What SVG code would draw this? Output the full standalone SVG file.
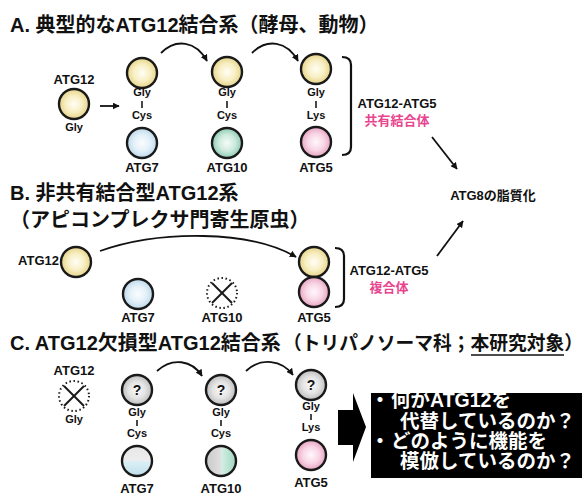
<svg xmlns="http://www.w3.org/2000/svg" width="588" height="496" viewBox="0 0 588 496">
<defs>
<radialGradient id="gY" cx="0.5" cy="0.5" r="0.5"><stop offset="0" stop-color="#fffef6"/><stop offset="0.55" stop-color="#f8efc4"/><stop offset="1" stop-color="#e6d488"/></radialGradient>
<radialGradient id="gB" cx="0.5" cy="0.5" r="0.5"><stop offset="0" stop-color="#fbfdff"/><stop offset="0.55" stop-color="#e3f0f8"/><stop offset="1" stop-color="#bcd9ea"/></radialGradient>
<radialGradient id="gT" cx="0.5" cy="0.5" r="0.5"><stop offset="0" stop-color="#f6fcf9"/><stop offset="0.55" stop-color="#cdeadd"/><stop offset="1" stop-color="#8ecbb4"/></radialGradient>
<radialGradient id="gP" cx="0.5" cy="0.5" r="0.5"><stop offset="0" stop-color="#fff8fb"/><stop offset="0.55" stop-color="#f8d6e5"/><stop offset="1" stop-color="#e8a3c2"/></radialGradient>
<radialGradient id="gG" cx="0.5" cy="0.5" r="0.5"><stop offset="0" stop-color="#fafafa"/><stop offset="0.55" stop-color="#e4e4e4"/><stop offset="1" stop-color="#bdbdbd"/></radialGradient>
<linearGradient id="gCB" x1="0" y1="0" x2="0" y2="1"><stop offset="0" stop-color="#e6e6e6"/><stop offset="0.5" stop-color="#eeeeee"/><stop offset="0.5" stop-color="#dcf0f6"/><stop offset="1" stop-color="#bfe0ec"/></linearGradient>
<linearGradient id="gCT" x1="0" y1="0" x2="1" y2="0"><stop offset="0" stop-color="#c8c8c8"/><stop offset="0.5" stop-color="#e0e0e0"/><stop offset="0.5" stop-color="#d6efe6"/><stop offset="1" stop-color="#9fd6c0"/></linearGradient>
<marker id="ah" viewBox="0 0 10 10" refX="9" refY="5" markerWidth="7" markerHeight="7" markerUnits="userSpaceOnUse" orient="auto"><path d="M0,0 L10,5 L0,10 z" fill="#111"/></marker>
</defs>
<style>
.t{font-family:"Liberation Sans","Noto Sans CJK JP",sans-serif;font-weight:bold;fill:#111}
.title{font-size:20px}
.lbl{font-size:13px;text-anchor:middle}
.sm{font-size:11px;text-anchor:middle}
.q{font-size:14px;text-anchor:middle}
.pk{fill:#e8458f}
.c{stroke:#1a1a1a;stroke-width:2.4}
.dot{fill:#fff;stroke:#1a1a1a;stroke-width:2;stroke-dasharray:1.5 2.6}
.x{stroke:#1a1a1a;stroke-width:2}
.bond{stroke:#1a1a1a;stroke-width:1.6}
.conn{fill:none;stroke:#111;stroke-width:1.8}
.br{fill:none;stroke:#111;stroke-width:2.2}
.w{fill:#fff;font-size:19.5px;font-family:"Liberation Sans","Noto Sans CJK JP",sans-serif;font-weight:bold}
</style>
<rect width="588" height="496" fill="#fff"/>

<!-- Section A -->
<text class="t title" x="10" y="32">A. 典型的なATG12結合系（酵母、動物）</text>
<g id="A-ATG12">
<text class="t lbl" x="74" y="84">ATG12</text>
<circle class="c" cx="74" cy="104" r="15" fill="url(#gY)"/>
<text class="t sm" x="74" y="131">Gly</text>
</g>
<g id="A-ATG7">
<circle class="c" cx="142" cy="73" r="15" fill="url(#gY)"/>
<text class="t sm" x="142" y="96">Gly</text>
<line class="bond" x1="142" y1="101" x2="142" y2="108"/>
<text class="t sm" x="142" y="119">Cys</text>
<circle class="c" cx="142" cy="143" r="15" fill="url(#gB)"/>
<text class="t lbl" x="142" y="172">ATG7</text>
</g>
<g id="A-ATG10">
<circle class="c" cx="227" cy="72" r="15" fill="url(#gY)"/>
<text class="t sm" x="227" y="96">Gly</text>
<line class="bond" x1="227" y1="101" x2="227" y2="108"/>
<text class="t sm" x="227" y="119">Cys</text>
<circle class="c" cx="227" cy="143" r="15" fill="url(#gT)"/>
<text class="t lbl" x="227" y="172">ATG10</text>
</g>
<g id="A-ATG5">
<circle class="c" cx="316" cy="69" r="15" fill="url(#gY)"/>
<text class="t sm" x="316" y="96">Gly</text>
<line class="bond" x1="316" y1="101" x2="316" y2="108"/>
<text class="t sm" x="316" y="119">Lys</text>
<circle class="c" cx="316" cy="142" r="15" fill="url(#gP)"/>
<text class="t lbl" x="316" y="172">ATG5</text>
</g>
<g id="A-complex">
<path class="br" d="M342,57 Q351,57 351,65 V147 Q351,155 342,155"/>
<text class="t lbl" x="397" y="108">ATG12-ATG5</text>
<text class="t lbl pk" x="397" y="125">共有結合体</text>
</g>

<g id="ATG8">
<text class="t lbl" x="493" y="200">ATG8の脂質化</text>
</g>

<!-- Section B -->
<text class="t title" x="10" y="200">B. 非共有結合型ATG12系</text>
<text class="t title" x="10" y="227">（アピコンプレクサ門寄生原虫）</text>
<g id="B-ATG12">
<text class="t lbl" x="59" y="265" style="text-anchor:end">ATG12</text>
<circle class="c" cx="76" cy="262" r="15" fill="url(#gY)"/>
</g>
<g id="B-ATG7">
<circle class="c" cx="138" cy="294" r="15" fill="url(#gB)"/>
<text class="t lbl" x="138" y="322">ATG7</text>
</g>
<g id="B-ATG10">
<circle class="dot" cx="222" cy="293" r="15"/>
<line class="x" x1="212" y1="283" x2="232" y2="303"/>
<line class="x" x1="232" y1="283" x2="212" y2="303"/>
<text class="t lbl" x="222" y="322">ATG10</text>
</g>
<g id="B-ATG5">
<circle class="c" cx="314" cy="262" r="15" fill="url(#gY)"/>
<circle class="c" cx="314" cy="292" r="15" fill="url(#gP)"/>
<text class="t lbl" x="314" y="322">ATG5</text>
</g>
<g id="B-complex">
<path class="br" d="M335,248 Q344,248 344,256 V299 Q344,307 335,307"/>
<text class="t lbl" x="389" y="275">ATG12-ATG5</text>
<text class="t lbl pk" x="389" y="292">複合体</text>
</g>

<!-- Section C -->
<text class="t title" x="10" y="350">C. ATG12欠損型ATG12結合系</text>
<text class="t" x="283" y="350" style="font-size:19px" textLength="300" lengthAdjust="spacingAndGlyphs">（トリパノソーマ科；本研究対象）</text>
<line x1="471" y1="355" x2="564" y2="355" stroke="#111" stroke-width="1.5"/>
<g id="C-ATG12">
<text class="t lbl" x="74" y="375">ATG12</text>
<circle class="dot" cx="74" cy="396" r="15"/>
<line class="x" x1="64" y1="386" x2="84" y2="406"/>
<line class="x" x1="84" y1="386" x2="64" y2="406"/>
<text class="t sm" x="74" y="423">Gly</text>
</g>
<g id="C-ATG7">
<circle class="c" cx="137" cy="390" r="15" fill="url(#gG)"/>
<text class="t q" x="137" y="395">?</text>
<text class="t sm" x="137" y="416">Gly</text>
<line class="bond" x1="137" y1="420" x2="137" y2="426"/>
<text class="t sm" x="137" y="437">Cys</text>
<circle class="c" cx="137" cy="461" r="15" fill="url(#gCB)"/>
<text class="t lbl" x="137" y="493">ATG7</text>
</g>
<g id="C-ATG10">
<circle class="c" cx="221" cy="390" r="15" fill="url(#gG)"/>
<text class="t q" x="221" y="395">?</text>
<text class="t sm" x="221" y="416">Gly</text>
<line class="bond" x1="221" y1="420" x2="221" y2="426"/>
<text class="t sm" x="221" y="437">Cys</text>
<circle class="c" cx="221" cy="461" r="15" fill="url(#gCT)"/>
<text class="t lbl" x="221" y="493">ATG10</text>
</g>
<g id="C-ATG5">
<circle class="c" cx="311" cy="385" r="15" fill="url(#gG)"/>
<text class="t q" x="311" y="390">?</text>
<text class="t sm" x="311" y="410">Gly</text>
<line class="bond" x1="311" y1="414" x2="311" y2="420"/>
<text class="t sm" x="311" y="431">Lys</text>
<circle class="c" cx="311" cy="455" r="15" fill="url(#gP)"/>
<text class="t lbl" x="311" y="487">ATG5</text>
</g>
<g id="C-arrow">
<path d="M338,410 H353 V393 L366,427 L353,462 V445 H338 z" fill="#000"/>
</g>
<g id="C-question">
<rect x="371" y="393" width="211" height="85" fill="#000"/>
<text class="w" x="380" y="407" text-anchor="middle">・</text>
<text class="w" x="391" y="407">何がATG12を</text>
<text class="w" x="400" y="428">代替しているのか？</text>
<text class="w" x="380" y="448" text-anchor="middle">・</text>
<text class="w" x="391" y="448">どのように機能を</text>
<text class="w" x="400" y="468">模倣しているのか？</text>
</g>

<g id="connectors">
<line class="conn" x1="100" y1="106" x2="119" y2="106" marker-end="url(#ah)"/>
<path class="conn" d="M161,53 C176,38 196,41 207,61" marker-end="url(#ah)"/>
<path class="conn" d="M252,53 C267,38 287,41 298,61" marker-end="url(#ah)"/>
<line class="conn" x1="432" y1="137" x2="457" y2="169" marker-end="url(#ah)"/>
<path class="conn" d="M100,251 C160,230 250,230 296,257" marker-end="url(#ah)"/>
<line class="conn" x1="437" y1="256" x2="463" y2="221" marker-end="url(#ah)"/>
<path class="conn" d="M157,371 C172,357 192,360 202,376" marker-end="url(#ah)"/>
<path class="conn" d="M246,371 C261,357 282,360 293,375" marker-end="url(#ah)"/>
</g>
</svg>
